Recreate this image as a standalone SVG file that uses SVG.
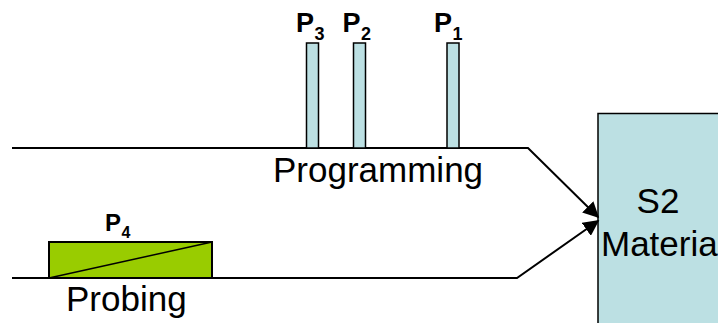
<svg xmlns="http://www.w3.org/2000/svg" width="718" height="323" viewBox="0 0 718 323">
  <style>
    .lbl { font-family: "Liberation Sans", Arial, sans-serif; fill: #000; }
    .big { font-size: 35px; }
    .pl { font-size: 27px; font-weight: bold; }
    .ps { font-size: 18px; font-weight: bold; }
    .bar { fill: #BCE0E3; stroke: #000; stroke-width: 1.5; }
    .wire { fill: none; stroke: #000; stroke-width: 2; }
  </style>
  <defs>
    <marker id="arrow" viewBox="0 0 10 10" refX="9" refY="5" markerWidth="8" markerHeight="8" markerUnits="strokeWidth" orient="auto">
      <path d="M0,0 L10,5 L0,10 z" fill="#000"/>
    </marker>
  </defs>
  <rect width="718" height="323" fill="#fff"/>

  <!-- material block -->
  <g id="s2-material">
    <rect x="598" y="113.5" width="130" height="220" fill="#BCE0E3" stroke="#000" stroke-width="1.5"/>
    <text class="lbl big" x="658" y="213" text-anchor="middle">S2</text>
    <text class="lbl big" x="601" y="256">Materia</text>
  </g>

  <!-- connectors -->
  <g id="connectors">
    <polyline class="wire" points="12,148 528,148 598,217" marker-end="url(#arrow)"/>
    <polyline class="wire" points="12,278 517,278 598,221" marker-end="url(#arrow)"/>
  </g>

  <!-- programming pulses -->
  <g id="pulse-p3">
    <rect class="bar" x="306.5" y="43" width="12" height="105"/>
    <text class="lbl pl" x="296" y="32">P</text>
    <text class="lbl ps" x="314.5" y="40">3</text>
  </g>
  <g id="pulse-p2">
    <rect class="bar" x="353.5" y="43" width="12" height="105"/>
    <text class="lbl pl" x="342.5" y="32">P</text>
    <text class="lbl ps" x="361" y="40">2</text>
  </g>
  <g id="pulse-p1">
    <rect class="bar" x="447" y="43" width="12" height="105"/>
    <text class="lbl pl" x="434" y="32">P</text>
    <text class="lbl ps" x="452.5" y="40">1</text>
  </g>
  <g id="programming-label">
    <text class="lbl big" x="273" y="182">Programming</text>
  </g>

  <!-- probing ramp -->
  <g id="pulse-p4">
    <rect x="49" y="242" width="163" height="36" fill="#99CC00" stroke="#000" stroke-width="2"/>
    <line x1="49" y1="278" x2="212" y2="242" stroke="#000" stroke-width="1.5"/>
    <text class="lbl" x="105" y="231" font-size="24" font-weight="bold">P</text>
    <text class="lbl" x="121.5" y="238" font-size="16" font-weight="bold">4</text>
  </g>
  <g id="probing-label">
    <text class="lbl big" x="66" y="311">Probing</text>
  </g>
</svg>
